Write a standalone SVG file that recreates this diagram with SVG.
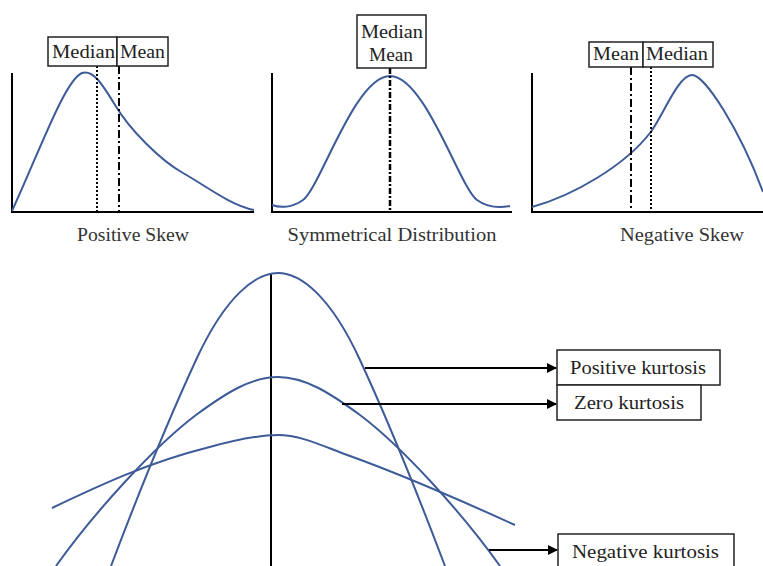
<svg xmlns="http://www.w3.org/2000/svg" width="763" height="566" viewBox="0 0 763 566">
<style>
.axis{stroke:#000;stroke-width:2;fill:none}
.curve{stroke:#3d5b98;stroke-width:2;fill:none;stroke-linejoin:round}
.box{fill:#fff;stroke:#222;stroke-width:1.5}
.dot{stroke:#000;stroke-width:2;stroke-dasharray:2,2;fill:none}
.dash{stroke:#000;stroke-width:2;stroke-dasharray:8,3,2,3;fill:none}
.dd{stroke:#000;stroke-width:2.5;stroke-dasharray:6,2,2,2;fill:none}
.t{font-family:"Liberation Serif","Times New Roman",serif;font-size:18px;fill:#222}
.cap{font-family:"Liberation Serif","Times New Roman",serif;font-size:18px;fill:#333;text-anchor:middle}
.conn{stroke:#000;stroke-width:2;fill:none}
</style>
<defs>
<marker id="ah" viewBox="0 0 10 10" refX="9" refY="5" markerWidth="5" markerHeight="5" orient="auto" markerUnits="strokeWidth">
<path d="M0,0 L10,5 L0,10 Z" fill="#000"/>
</marker>
</defs>
<rect width="763" height="566" fill="#fff"/>

<g id="positive-skew">
<path class="axis" d="M12,73 V212 H254"/>
<path class="curve" d="M12,211 C40,150 65,80 82,73 C92,70 100,80 115,105 C130,130 160,160 183,173 C206,186 230,205 254,210"/>
<line class="dot" x1="97" y1="66" x2="97" y2="212"/>
<line class="dash" x1="119" y1="66" x2="119" y2="212"/>
<rect class="box" x="48" y="37" width="69" height="29"/>
<rect class="box" x="117" y="37" width="51" height="29"/>
<text class="t" x="52" y="58" textLength="63" lengthAdjust="spacingAndGlyphs">Median</text>
<text class="t" x="120" y="58" textLength="45" lengthAdjust="spacingAndGlyphs">Mean</text>
<text class="cap" x="133" y="241" textLength="112" lengthAdjust="spacingAndGlyphs">Positive Skew</text>
</g>

<g id="symmetrical">
<path class="axis" d="M272,73 V212 H512"/>
<path class="curve" d="M272,205 C280,208 292,208 303,200 C320,188 355,76 390,76 C425,76 460,188 477,200 C488,208 500,208 510,206"/>
<line class="dd" x1="390" y1="68" x2="390" y2="212"/>
<rect class="box" x="357" y="15" width="69" height="53"/>
<text class="t" x="361" y="38" textLength="62" lengthAdjust="spacingAndGlyphs">Median</text>
<text class="t" x="369" y="61" textLength="44" lengthAdjust="spacingAndGlyphs">Mean</text>
<text class="cap" x="392" y="241" textLength="209" lengthAdjust="spacingAndGlyphs">Symmetrical Distribution</text>
</g>

<g id="negative-skew">
<path class="axis" d="M532,73 V212 H763"/>
<path class="curve" d="M532,207 C575,195 625,165 650,133 C662,118 678,75 692,75 C705,75 740,130 763,192"/>
<line class="dash" x1="631" y1="67" x2="631" y2="212"/>
<line class="dot" x1="651" y1="67" x2="651" y2="212"/>
<rect class="box" x="589" y="42" width="54" height="25"/>
<rect class="box" x="643" y="42" width="70" height="25"/>
<text class="t" x="593" y="60" textLength="46" lengthAdjust="spacingAndGlyphs">Mean</text>
<text class="t" x="646" y="60" textLength="62" lengthAdjust="spacingAndGlyphs">Median</text>
<text class="cap" x="682" y="241" textLength="124" lengthAdjust="spacingAndGlyphs">Negative Skew</text>
</g>

<g id="kurtosis-curves">
<line class="axis" x1="271" y1="273" x2="271" y2="566"/>
<path class="curve" d="M111,566 C136,500 166,425 196,360 C226,295 256,273 278,273 C300,273 330,295 360,360 C390,425 420,500 445,566"/>
<path class="curve" d="M56,566 C96,510 156,445 196,415 C226,393 251,377 278,377 C305,377 330,393 360,415 C400,445 460,510 500,566"/>
<path class="curve" d="M52,508 C100,485 150,462 206,448 C235,440 258,435 278,435 C300,435 320,445 350,456 C400,474 460,500 515,525"/>
</g>

<g id="connectors">
<line class="conn" x1="365" y1="368" x2="556" y2="368" marker-end="url(#ah)"/>
<line class="conn" x1="342" y1="404" x2="556" y2="404" marker-end="url(#ah)"/>
<line class="conn" x1="489" y1="550" x2="557" y2="550" marker-end="url(#ah)"/>
</g>

<g id="positive-kurtosis">
<rect class="box" x="557" y="350" width="163" height="35"/>
<text class="t" x="570" y="374" textLength="136" lengthAdjust="spacingAndGlyphs">Positive kurtosis</text>
</g>
<g id="zero-kurtosis">
<rect class="box" x="557" y="385" width="144" height="35"/>
<text class="t" x="574" y="409" textLength="110" lengthAdjust="spacingAndGlyphs">Zero kurtosis</text>
</g>
<g id="negative-kurtosis">
<rect class="box" x="558" y="534" width="176" height="40"/>
<text class="t" x="572" y="558" textLength="147" lengthAdjust="spacingAndGlyphs">Negative kurtosis</text>
</g>
</svg>
